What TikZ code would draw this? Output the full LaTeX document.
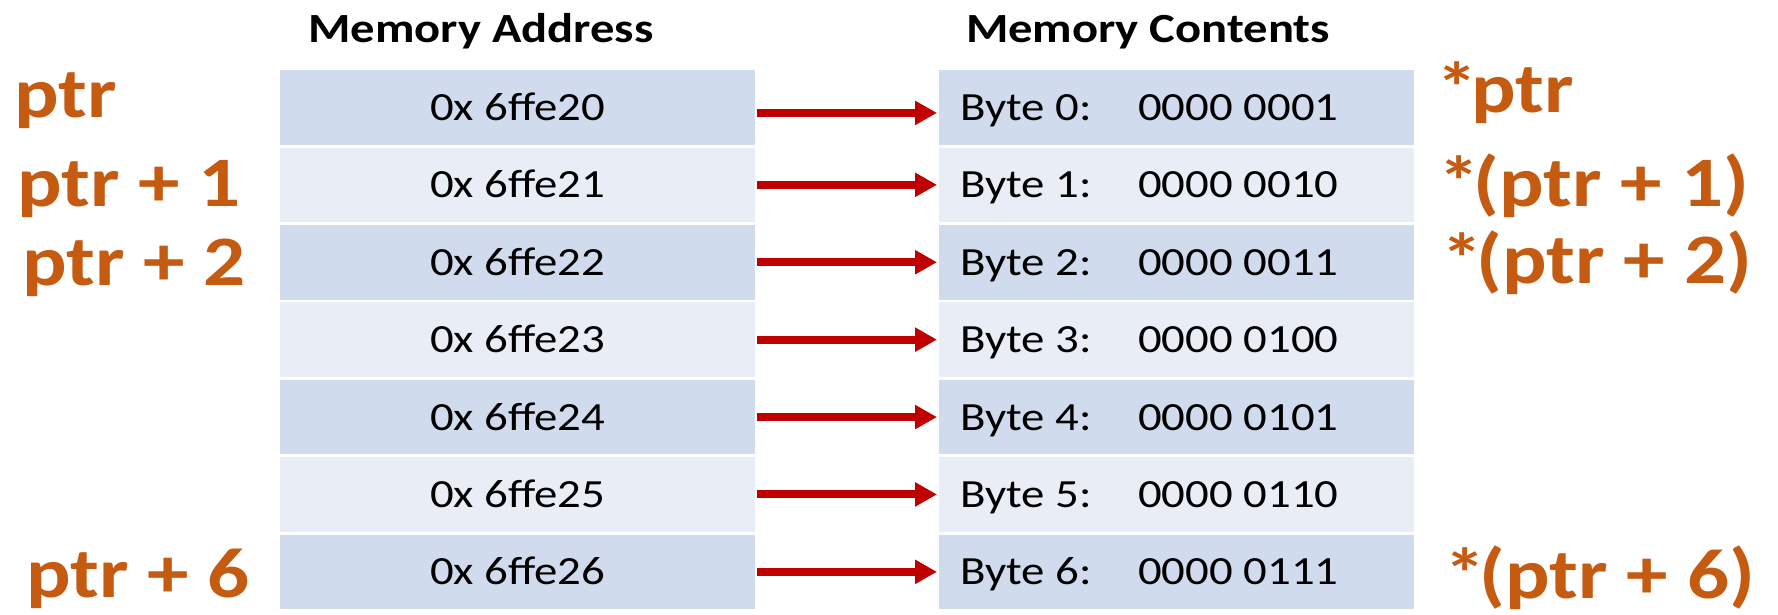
\documentclass[tikz,border=0pt]{standalone}
\usepackage{fontspec}
\setmainfont{Carlito}[FakeStretch=1.17]
\usetikzlibrary{arrows.meta}

\definecolor{rowdark}{HTML}{D0DBED}
\definecolor{rowlight}{HTML}{E8EDF6}
\definecolor{ptrorange}{HTML}{C55A11}
\definecolor{arrowred}{HTML}{C00000}

\newcommand{\deref}{*\kern-6pt}

\tikzset{
  cell/.style={anchor=north west, inner sep=0pt, minimum width=475pt,
    minimum height=74.5pt, text height=26pt, text depth=0pt,
    font=\fontsize{40}{48}\selectfont},
  header/.style={anchor=base, inner sep=0pt,
    font=\fontsize{41.5}{50}\selectfont\bfseries},
  ptrlabel/.style={anchor=base west, inner sep=0pt, text=ptrorange,
    font=\fontsize{71}{80}\selectfont\bfseries},
  ptrarrow/.style={draw=arrowred, line width=8pt,
    -{Triangle[length=22pt,width=23pt]}, shorten <=2pt, shorten >=2pt}
}

\begin{document}
\begin{tikzpicture}[x=1pt, y=-1pt]
  \useasboundingbox (0,0) rectangle (1778,615);

  % column headings
  \node[header] (hAddr) at (481,42.7) {Memory Address};
  \node[header] (hCont) at (1148,42.7) {Memory Contents};

  % address column and contents column, one row per byte
  \foreach \i/\bits in {0/0001,1/0010,2/0011,3/0100,4/0101,5/0110,6/0111} {
    \pgfmathsetmacro{\top}{70+77.4*\i}
    \pgfmathtruncatemacro{\odd}{mod(\i,2)}
    \ifnum\odd=0 \def\rowcol{rowdark}\else\def\rowcol{rowlight}\fi
    \node[cell, fill=\rowcol] (a\i) at (280,\top) {0x 6ffe2\i};
    \node[cell, fill=\rowcol] (c\i) at (939,\top)
      {\makebox[433pt][l]{\makebox[178pt][l]{Byte \i:}0000 \bits}};
  }

  % address -> byte arrows
  \draw[ptrarrow] ([yshift=-5.5pt]a0.east) -- ([yshift=-5.5pt]c0.west);
  \foreach \i in {1,...,6} {
    \draw[ptrarrow] (a\i.east) -- (c\i.west);
  }

  % pointer expressions on the left
  \node[ptrlabel] (p0) at (14,118) {ptr};
  \node[ptrlabel] (p1) at (17,206.7) {ptr + 1};
  \node[ptrlabel] (p2) at (22,285) {ptr + 2};
  \node[ptrlabel] (p6) at (26,597) {ptr + 6};

  % dereferenced expressions on the right
  \node[ptrlabel] (d0) at (1436,113) {\deref ptr};
  \node[ptrlabel] (d1) at (1438,206.7) {\deref(ptr + 1)};
  \node[ptrlabel] (d2) at (1441,283) {\deref(ptr + 2)};
  \node[ptrlabel] (d6) at (1444,598) {\deref(ptr + 6)};
\end{tikzpicture}
\end{document}
